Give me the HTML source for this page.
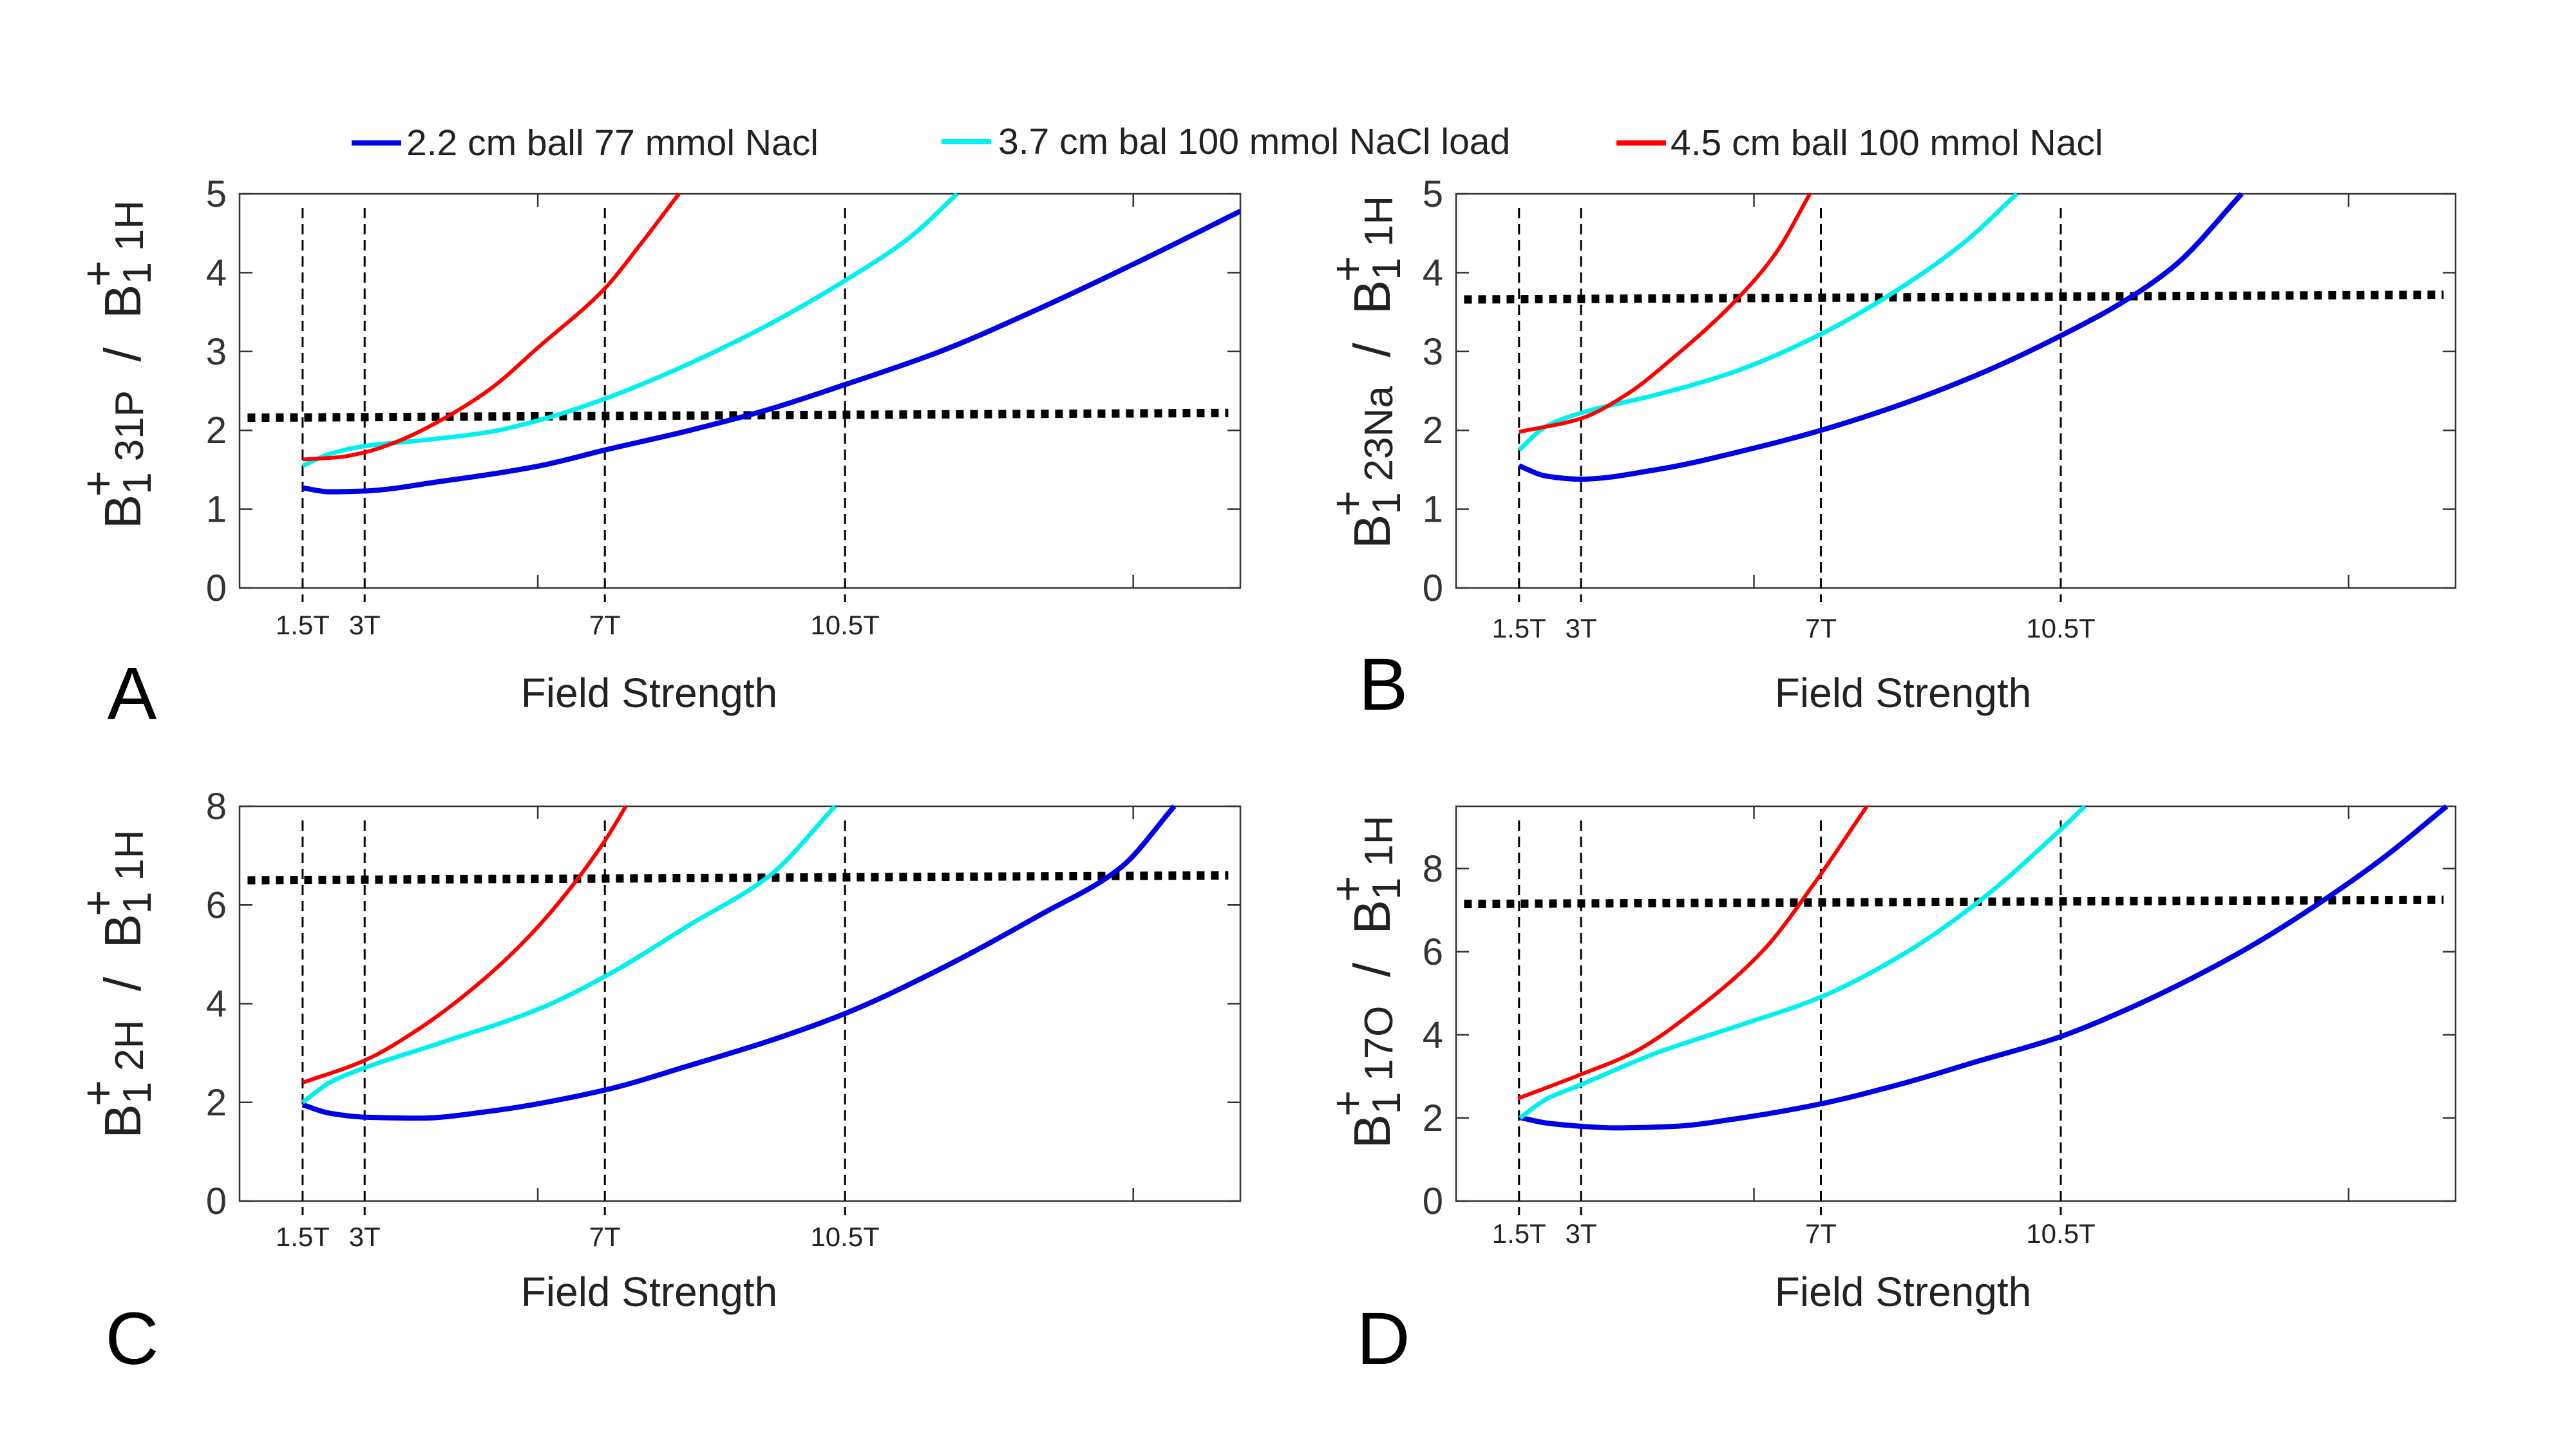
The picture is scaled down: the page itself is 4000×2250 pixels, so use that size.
<!DOCTYPE html>
<html><head><meta charset="utf-8">
<style>
html,body{margin:0;padding:0;background:#fff;}
svg{display:block;font-family:"Liberation Sans",sans-serif;}
</style></head>
<body>
<svg id="fig" width="4000" height="2250" viewBox="0 0 4000 2250" xmlns="http://www.w3.org/2000/svg">
<rect width="4000" height="2250" fill="#fff"/>
<g>
  <g><line x1="546" y1="222" x2="623" y2="222" stroke="#0000e6" stroke-width="8"/><text x="631" y="241" font-size="57" fill="#222">2.2 cm ball 77 mmol Nacl</text></g>
  <g><line x1="1462" y1="220" x2="1539" y2="220" stroke="#00f0f0" stroke-width="8"/><text x="1550" y="239" font-size="57" fill="#222">3.7 cm bal 100 mmol NaCl load</text></g>
  <g><line x1="2510" y1="222" x2="2587" y2="222" stroke="#ff0000" stroke-width="8"/><text x="2594" y="241" font-size="57" fill="#222">4.5 cm ball 100 mmol Nacl</text></g>
</g>
</svg>
<script>
// x in arbitrary field-axis units 0..100
const markerLabels = ["1.5T","3T","7T","10.5T"];
const markerX = [6.3,12.5,36.5,60.5];
const minorTicksX = [29.8,89.3];

const aBlueX=[6.3,9,12.5,20,30,36.5,45,53,60.5,70,80,90,100];
const aBlueY=[1.27,1.22,1.23,1.35,1.55,1.75,2.0,2.27,2.58,3.0,3.55,4.15,4.78];
const aCyanX=[6.3,9,12.5,18,25,30,36.5,45,53,60.5,67,71.7];
const aCyanY=[1.55,1.7,1.8,1.87,1.98,2.13,2.4,2.85,3.35,3.9,4.45,5.0];
const aRedX=[6.3,10,12.5,16,20,25,30,36.5,40,43.9];
const aRedY=[1.63,1.66,1.72,1.87,2.12,2.52,3.07,3.8,4.35,5.0];
const aRef=[2.16,2.22];

const bBlueX=[6.3,9,12.5,20,30,36.5,45,53,60.5,67,72,78.6];
const bBlueY=[1.55,1.42,1.38,1.5,1.78,2.0,2.35,2.75,3.2,3.65,4.1,5.0];
const bCyanX=[6.3,9,12.5,20,28,36.5,45,51,56.1];
const bCyanY=[1.75,2.05,2.22,2.45,2.75,3.22,3.85,4.4,5.0];
const bRedX=[6.3,12.5,17,22,28,32,35.4];
const bRedY=[1.98,2.15,2.45,2.95,3.65,4.25,5.0];
const bRef=[3.66,3.72];

const cBlueX=[6.3,9,12.5,18,25,36.5,45,53,60.5,70,80,88,93.4];
const cBlueY=[1.95,1.78,1.7,1.68,1.82,2.25,2.75,3.25,3.8,4.7,5.8,6.75,8.0];
const cCyanX=[6.3,9,12.5,20,30,36.5,45,53,59.5];
const cCyanY=[2.0,2.4,2.7,3.2,3.9,4.55,5.6,6.6,8.0];
const cRedX=[6.3,12.5,18,25,30,36.5,38.6];
const cRedY=[2.4,2.85,3.5,4.6,5.6,7.3,8.0];
const cRef=[6.5,6.6];

const dBlueX=[6.4,9,12.5,16,22,28,36.5,45,52,60.4,67,73.6,80,86.8,93,99.1];
const dBlueY=[2.01,1.88,1.8,1.76,1.8,1.98,2.34,2.85,3.35,3.95,4.6,5.36,6.2,7.24,8.3,9.5];
const dCyanX=[6.4,9,12.3,20.1,28,36.5,44.8,52.2,60.4,62.9];
const dCyanY=[2.0,2.45,2.78,3.57,4.2,4.91,5.95,7.19,8.92,9.5];
const dRedX=[6.2,12.3,17.7,24.3,30.8,35.8,41.1];
const dRedY=[2.47,3.03,3.57,4.66,6.05,7.63,9.5];
const dRef=[7.15,7.25];

const yTicksAB=[0,1,2,3,4,5];
const yTicksCD=[0,2,4,6,8];

const NS="http://www.w3.org/2000/svg";
const svg=document.getElementById('fig');
function el(tag,attrs,parent){const e=document.createElementNS(NS,tag);for(const k in attrs)e.setAttribute(k,attrs[k]);(parent||svg).appendChild(e);return e;}

function smoothPath(pts){
  const n=pts.length;
  const dx=[],m=[],t=new Array(n);
  for(let i=0;i<n-1;i++){dx[i]=pts[i+1][0]-pts[i][0];m[i]=(pts[i+1][1]-pts[i][1])/dx[i];}
  t[0]=m[0];t[n-1]=m[n-2];
  for(let i=1;i<n-1;i++){
    if(m[i-1]*m[i]<=0)t[i]=0;
    else{const w1=2*dx[i]+dx[i-1],w2=dx[i]+2*dx[i-1];t[i]=(w1+w2)/(w1/m[i-1]+w2/m[i]);}
  }
  let d=`M${pts[0][0]},${pts[0][1]}`;
  for(let i=0;i<n-1;i++){
    const h=dx[i]/3;
    d+=` C${pts[i][0]+h},${pts[i][1]+t[i]*h} ${pts[i+1][0]-h},${pts[i+1][1]-t[i+1]*h} ${pts[i+1][0]},${pts[i+1][1]}`;
  }
  return d;
}

function panel(cfg){
  const g=el('g',{});
  
  
  const L=cfg.x0,R=cfg.x1,T=cfg.y0,B=cfg.y1;
  const sx=v=>L+(R-L)*v/100;
  const sy=v=>B-(B-T)*v/cfg.ymax;
  const clip=el('clipPath',{id:'clip'+cfg.letter},g);
  el('rect',{x:L,y:T-10,width:R-L,height:B-T+10},clip);
  const box=el('rect',{x:L,y:T,width:R-L,height:B-T,fill:'none',stroke:'#333','stroke-width':2.5},g);
  
  
  cfg.yticks.forEach(v=>{
    el('line',{x1:L,y1:sy(v),x2:L+20,y2:sy(v),stroke:'#333','stroke-width':2.5},g);
    el('line',{x1:R,y1:sy(v),x2:R-20,y2:sy(v),stroke:'#333','stroke-width':2.5},g);
    const t=el('text',{x:L-20,y:sy(v)+20,'font-size':58,'text-anchor':'end',fill:'#333'},g);
    t.textContent=v;
    
    
  });
  minorTicksX.forEach(v=>{
    el('line',{x1:sx(v),y1:B,x2:sx(v),y2:B-20,stroke:'#333','stroke-width':2.5},g);
    el('line',{x1:sx(v),y1:T,x2:sx(v),y2:T+20,stroke:'#333','stroke-width':2.5},g);
  });
  markerX.forEach((v,i)=>{
    const ln=el('line',{x1:sx(v),y1:T+22,x2:sx(v),y2:B+22,stroke:'#000','stroke-width':3,'stroke-dasharray':'16 9'},g);
    
    
    const t=el('text',{x:sx(v),y:cfg.tickY,'font-size':42,'text-anchor':'middle',fill:'#222'},g);
    t.textContent=markerLabels[i];
    
    
  });
  const cg=el('g',{'clip-path':`url(#clip${cfg.letter})`},g);
  const ref=el('line',{x1:sx(0.8),y1:sy(cfg.ref[0]),x2:sx(98.8),y2:sy(cfg.ref[1]),stroke:'#000','stroke-width':13,'stroke-dasharray':'12 10'},cg);
  
  
  cfg.series.forEach(s=>{
    const pts=s.x.map((v,i)=>[sx(v),sy(s.y[i])]);
    const p=el('path',{d:smoothPath(pts),fill:'none',stroke:s.color,'stroke-width':s.w,'stroke-linecap':'butt'},cg);
    
    
  });
  const xt=el('text',{x:cfg.titleX,y:cfg.titleY,'font-size':64,'text-anchor':'middle',fill:'#222'},g);
  xt.textContent='Field Strength';
  
  
  const lt=el('text',{x:cfg.letterX,y:cfg.letterY,'font-size':115,'text-anchor':'middle',fill:'#000'},g);
  lt.textContent=cfg.letter;
  
  
  const yg=el('g',{transform:`translate(${cfg.labX},${cfg.labY}) rotate(-90)`},g);
  
  
  const yt=el('text',{x:0,y:0,'font-size':80,'text-anchor':'middle',fill:'#222'},yg);
  yt.innerHTML=`B<tspan font-size="62" dy="16">1</tspan><tspan font-size="70" dx="-38" dy="-58">+</tspan><tspan font-size="62" dx="14" dy="46">${cfg.nuc}</tspan><tspan dy="-4" font-size="80" xml:space="preserve">  /  B</tspan><tspan font-size="62" dy="16">1</tspan><tspan font-size="70" dx="-38" dy="-58">+</tspan><tspan font-size="62" dx="14" dy="46">1H</tspan>`;
}

const BL='#0000e6',CY='#00f0f0',RD='#ff0000';
panel({letter:'A',x0:372,x1:1926,y0:301,y1:913,ymax:5,yticks:yTicksAB,ref:aRef,nuc:'31P',
  tickY:985,titleX:1008,titleY:1098,letterX:205,letterY:1116,labX:218,labY:566,
  series:[{name:'series-2.2cm',x:aBlueX,y:aBlueY,color:BL,w:8},{name:'series-3.7cm',x:aCyanX,y:aCyanY,color:CY,w:7},{name:'series-4.5cm',x:aRedX,y:aRedY,color:RD,w:6}]});
panel({letter:'B',x0:2261,x1:3813,y0:301,y1:913,ymax:5,yticks:yTicksAB,ref:bRef,nuc:'23Na',
  tickY:990,titleX:2955,titleY:1098,letterX:2148,letterY:1102,labX:2158,labY:578,
  series:[{name:'series-2.2cm',x:bBlueX,y:bBlueY,color:BL,w:8},{name:'series-3.7cm',x:bCyanX,y:bCyanY,color:CY,w:7},{name:'series-4.5cm',x:bRedX,y:bRedY,color:RD,w:6}]});
panel({letter:'C',x0:372,x1:1926,y0:1252,y1:1865,ymax:8,yticks:yTicksCD,ref:cRef,nuc:'2H',
  tickY:1935,titleX:1008,titleY:2028,letterX:205,letterY:2118,labX:218,labY:1528,
  series:[{name:'series-2.2cm',x:cBlueX,y:cBlueY,color:BL,w:8},{name:'series-3.7cm',x:cCyanX,y:cCyanY,color:CY,w:7},{name:'series-4.5cm',x:cRedX,y:cRedY,color:RD,w:6}]});
panel({letter:'D',x0:2261,x1:3813,y0:1252,y1:1865,ymax:9.5,yticks:yTicksCD,ref:dRef,nuc:'17O',
  tickY:1930,titleX:2955,titleY:2028,letterX:2148,letterY:2118,labX:2158,labY:1525,
  series:[{name:'series-2.2cm',x:dBlueX,y:dBlueY,color:BL,w:8},{name:'series-3.7cm',x:dCyanX,y:dCyanY,color:CY,w:7},{name:'series-4.5cm',x:dRedX,y:dRedY,color:RD,w:6}]});
</script>
</body></html>
